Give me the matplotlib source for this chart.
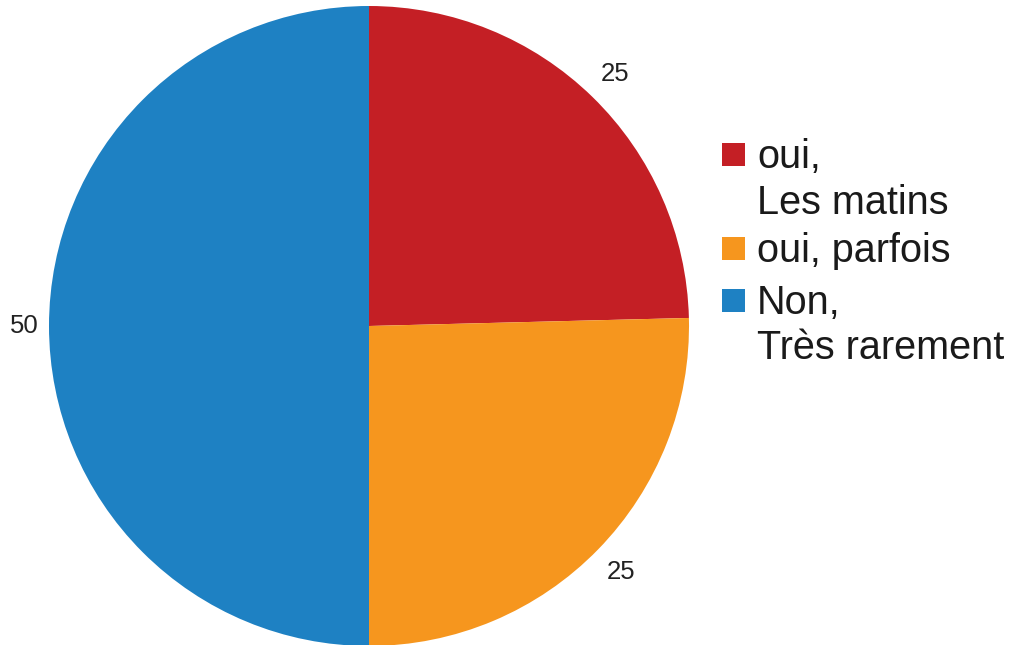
import matplotlib.pyplot as plt
from matplotlib.patches import Rectangle
import numpy as np

plt.rcParams['font.family'] = ['Liberation Sans', 'DejaVu Sans']

# data (labels shown rounded)
categories = ['oui,\nLes matins', 'oui, parfois', 'Non,\nTrès rarement']
values = [24.6, 25.4, 50]
value_labels = ['25', '25', '50']
colors = ['#C41F25', '#F6961E', '#1E81C3']

W, H = 1013, 645
fig = plt.figure(figsize=(W / 100, H / 100), dpi=100)
# pie box: 640 px square, centre at (369, 326)
ax = fig.add_axes([49 / W, (H - 646) / H, 640 / W, 640 / H])

wedges, _ = ax.pie(values, colors=colors, startangle=90, counterclock=False,
                   wedgeprops=dict(linewidth=0), radius=1.0)
ax.set_xlim(-1, 1)
ax.set_ylim(-1, 1)
ax.set_aspect('equal')
ax.axis('off')

label_r = [1.1, 1.1, 1.078]
for w, lab, r in zip(wedges, value_labels, label_r):
    ang = np.deg2rad((w.theta1 + w.theta2) / 2)
    ax.text(r * np.cos(ang), r * np.sin(ang), lab, ha='center', va='center',
            fontsize=18.5, color='#222222')

# legend drawn by hand so the square sits beside the first line
rows_y = [170, 264, 316]   # baseline of first line, pixels from top
sq = 23
for name, col, y in zip(categories, colors, rows_y):
    fig.patches.append(Rectangle((722 / W, 1 - (y - 4) / H), sq / W, sq / H,
                                 transform=fig.transFigure, facecolor=col,
                                 edgecolor='none'))
    fig.text(757 / W, 1 - (y - 32) / H, name, ha='left', va='top',
             fontsize=28.5, color='#1a1a1a', linespacing=1.25)

fig.savefig('out.png', dpi=100)
